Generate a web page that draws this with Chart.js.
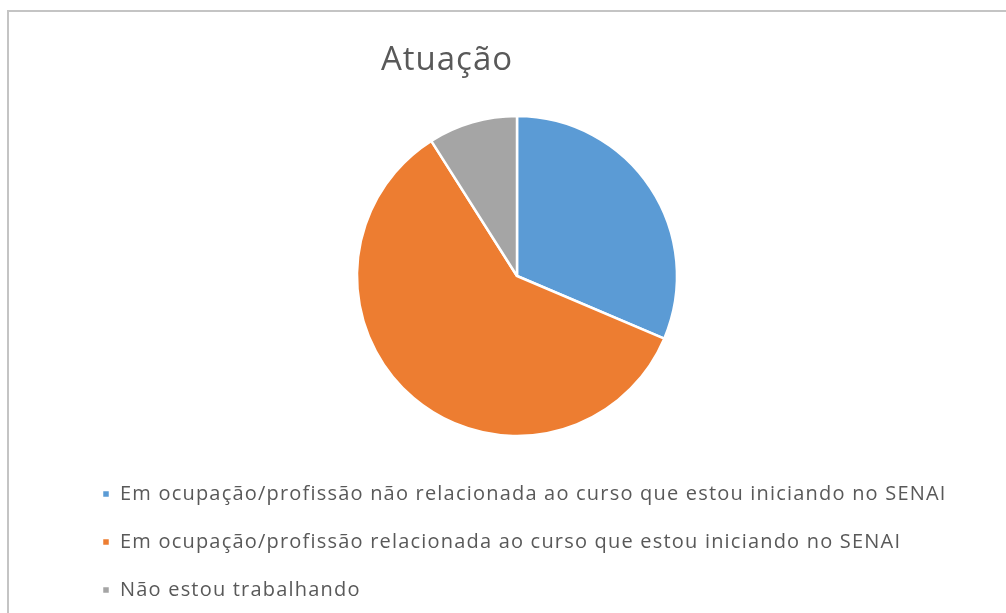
<!DOCTYPE html>
<html>
<head>
<meta charset="utf-8">
<script src="https://cdn.jsdelivr.net/npm/chart.js@4"></script>
<style>
  html, body { margin: 0; padding: 0; background: #fff; overflow: hidden; }
  #frame {
    position: absolute; left: 7px; top: 10px; width: 1200px; height: 800px;
    border-top: 2px solid #c4c4c4; border-left: 2px solid #c4c4c4;
  }
  canvas { position: absolute; left: 0; top: 0; }
</style>
</head>
<body>
<div id="frame"></div>
<canvas id="pieChart" width="1006" height="613"></canvas>
<script>
var chartTitle = "Atuação";
var categories = [
  "Em ocupação/profissão não relacionada ao curso que estou iniciando no SENAI",
  "Em ocupação/profissão relacionada ao curso que estou iniciando no SENAI",
  "Não estou trabalhando"
];
var shares = [31.4, 59.6, 9.0];
var sliceColors = ["#5B9BD5", "#ED7D31", "#A5A5A5"];

// the original text is loosely spaced, widen it a bit
var spacingPlugin = {
  id: 'spacing',
  beforeInit: function (chart) { chart.ctx.letterSpacing = '1.2px'; },
  beforeDraw: function (chart) { chart.ctx.letterSpacing = '1.2px'; }
};

// title drawn off-centre like the original, so a small plugin paints it
var titlePlugin = {
  id: 'offsetTitle',
  afterDraw: function (chart) {
    var c = chart.ctx;
    c.save();
    c.letterSpacing = '1px';
    c.font = '33px "Open Sans"';
    c.fillStyle = '#595959';
    c.textAlign = 'center';
    c.textBaseline = 'alphabetic';
    c.fillText(chartTitle, 447, 70);
    c.restore();
  }
};

var ctx = document.getElementById("pieChart");
var pieChart = new Chart(ctx, {
  type: 'pie',
  data: {
    labels: categories,
    datasets: [{
      data: shares,
      backgroundColor: sliceColors,
      borderColor: '#ffffff',
      borderWidth: 2.5,
      radius: 160
    }]
  },
  options: {
    responsive: false,
    animation: false,
    layout: { padding: { top: 96, left: 74, right: 46, bottom: 3 } },
    plugins: {
      title: { display: false },
      tooltip: { enabled: false },
      legend: {
        position: 'bottom',
        align: 'start',
        labels: {
          boxWidth: 8,
          boxHeight: 8,
          padding: 28,
          color: '#595959',
          font: { family: '"Open Sans"', size: 20 }
        }
      }
    }
  },
  plugins: [spacingPlugin, titlePlugin]
});
</script>
</body>
</html>
